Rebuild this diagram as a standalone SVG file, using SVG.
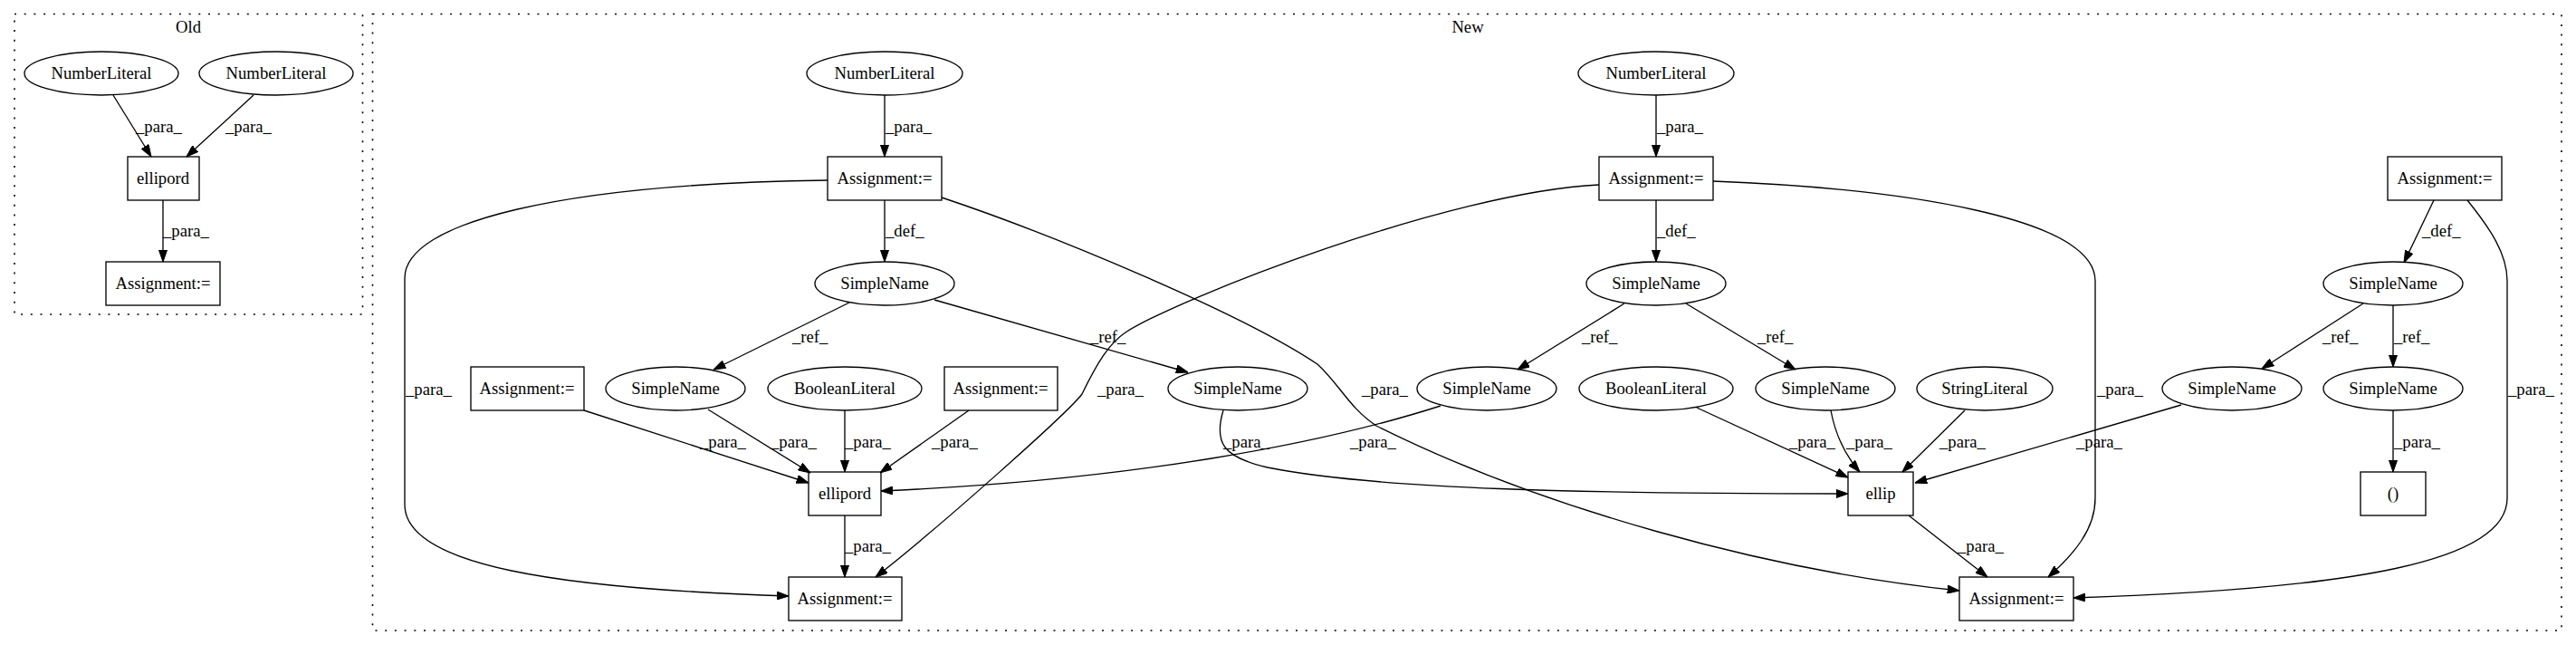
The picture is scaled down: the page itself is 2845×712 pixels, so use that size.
<svg xmlns="http://www.w3.org/2000/svg" width="2845" height="712" viewBox="0 0 2845 712">
<style>
text{font-family:"Liberation Serif","Times New Roman",serif;font-size:18.67px;fill:#000}
.n text{text-anchor:middle}
.n ellipse,.n rect{fill:none;stroke:#000;stroke-width:1.33}
.cl{fill:none;stroke:#000;stroke-width:1.6;stroke-dasharray:2,8.7}
.e path{fill:none;stroke:#000;stroke-width:1.33;marker-end:url(#ah)}
</style>
<defs>
<marker id="ah" viewBox="0 0 13.33 9.33" refX="13.33" refY="4.67" markerWidth="13.33" markerHeight="9.33" markerUnits="userSpaceOnUse" orient="auto">
<path d="M0,0 L13.33,4.67 L0,9.33 z" fill="#000" stroke="#000" stroke-width="1"/>
</marker>
</defs>
<rect width="2845" height="712" fill="#fff"/>
<g id="cluster_old">
<rect class="cl" x="16" y="15.5" width="384.5" height="331.5"/>
<text x="208" y="36" text-anchor="middle">Old</text>
</g>
<g id="cluster_new">
<rect class="cl" x="411.5" y="15.5" width="2417.5" height="680.5"/>
<text x="1621" y="36" text-anchor="middle">New</text>
</g>
<g class="n" id="o_nl1"><ellipse cx="112" cy="81" rx="85" ry="24"/><text x="112" y="87">NumberLiteral</text></g>
<g class="n" id="o_nl2"><ellipse cx="305" cy="81" rx="85" ry="24"/><text x="305" y="87">NumberLiteral</text></g>
<g class="n" id="o_ellipord"><rect x="141" y="173" width="79" height="48"/><text x="180" y="203">ellipord</text></g>
<g class="n" id="o_assign"><rect x="117" y="289" width="126" height="48"/><text x="180" y="319">Assignment:=</text></g>

<g class="n" id="n_nl1"><ellipse cx="977" cy="81" rx="86" ry="24"/><text x="977" y="87">NumberLiteral</text></g>
<g class="n" id="n_a1"><rect x="914" y="173" width="126" height="48"/><text x="977" y="203">Assignment:=</text></g>
<g class="n" id="n_sn1"><ellipse cx="977" cy="313" rx="77" ry="24"/><text x="977" y="319">SimpleName</text></g>
<g class="n" id="n_nl2"><ellipse cx="1829" cy="81" rx="86" ry="24"/><text x="1829" y="87">NumberLiteral</text></g>
<g class="n" id="n_a2"><rect x="1766" y="173" width="126" height="48"/><text x="1829" y="203">Assignment:=</text></g>
<g class="n" id="n_sn2"><ellipse cx="1829" cy="313" rx="77" ry="24"/><text x="1829" y="319">SimpleName</text></g>
<g class="n" id="n_a3"><rect x="2637" y="173" width="126" height="48"/><text x="2700" y="203">Assignment:=</text></g>
<g class="n" id="n_sn3"><ellipse cx="2643" cy="313" rx="77" ry="24"/><text x="2643" y="319">SimpleName</text></g>
<g class="n" id="n_a4"><rect x="520" y="405" width="125" height="48"/><text x="582" y="435">Assignment:=</text></g>
<g class="n" id="n_sn4"><ellipse cx="746" cy="429" rx="77" ry="24"/><text x="746" y="435">SimpleName</text></g>
<g class="n" id="n_bl1"><ellipse cx="933" cy="429" rx="85" ry="24"/><text x="933" y="435">BooleanLiteral</text></g>
<g class="n" id="n_a5"><rect x="1043" y="405" width="125" height="48"/><text x="1105" y="435">Assignment:=</text></g>
<g class="n" id="n_sn5"><ellipse cx="1367" cy="429" rx="77" ry="24"/><text x="1367" y="435">SimpleName</text></g>
<g class="n" id="n_sn6"><ellipse cx="1642" cy="429" rx="77" ry="24"/><text x="1642" y="435">SimpleName</text></g>
<g class="n" id="n_bl2"><ellipse cx="1829" cy="429" rx="85" ry="24"/><text x="1829" y="435">BooleanLiteral</text></g>
<g class="n" id="n_sn7"><ellipse cx="2016" cy="429" rx="77" ry="24"/><text x="2016" y="435">SimpleName</text></g>
<g class="n" id="n_strl"><ellipse cx="2192" cy="429" rx="75" ry="24"/><text x="2192" y="435">StringLiteral</text></g>
<g class="n" id="n_sn8"><ellipse cx="2465" cy="429" rx="77" ry="24"/><text x="2465" y="435">SimpleName</text></g>
<g class="n" id="n_sn9"><ellipse cx="2643" cy="429" rx="77" ry="24"/><text x="2643" y="435">SimpleName</text></g>
<g class="n" id="n_ellipord"><rect x="893" y="521" width="80" height="48"/><text x="933" y="551">ellipord</text></g>
<g class="n" id="n_ellip"><rect x="2041" y="521" width="72" height="48"/><text x="2077" y="551">ellip</text></g>
<g class="n" id="n_paren"><rect x="2607" y="521" width="72" height="48"/><text x="2643" y="551">()</text></g>
<g class="n" id="n_a6"><rect x="871" y="637" width="125" height="48"/><text x="933" y="667">Assignment:=</text></g>
<g class="n" id="n_a7"><rect x="2164" y="637" width="126" height="48"/><text x="2227" y="667">Assignment:=</text></g>

<g class="e" id="connectors">
<path d="M125,105 L167,173"/>
<path d="M280,105 L206,173"/>
<path d="M180,221 L180,289"/>
<path d="M977,105 L977,173"/>
<path d="M977,221 L977,289"/>
<path d="M914,199 C620,203 447,245 447,307 L447,557 C447,625 620,650 871,658"/>
<path d="M1040,218 C1160,258 1370,345 1455,402 C1480,425 1490,450 1520,470 C1700,560 1950,630 2164,652"/>
<path d="M1766,204 C1600,212 1300,330 1243,367 C1225,379 1212,400 1195,435 C1180,455 1040,580 967,637"/>
<path d="M1829,105 L1829,173"/>
<path d="M1829,221 L1829,289"/>
<path d="M1892,200 C2100,208 2314,240 2314,310 L2314,550 C2314,585 2290,612 2262,637"/>
<path d="M938,334 L788,408"/>
<path d="M1032,331 L1312,411"/>
<path d="M1794,335 L1676,408"/>
<path d="M1862,335 L1983,408"/>
<path d="M2688,221 L2655,290"/>
<path d="M2725,221 C2750,252 2769,280 2769,310 L2769,550 C2769,620 2600,650 2290,660"/>
<path d="M2610,335 L2498,407"/>
<path d="M2643,337 L2643,405"/>
<path d="M2643,453 L2643,521"/>
<path d="M2409,447 L2115,533"/>
<path d="M2170,453 L2101,521"/>
<path d="M2022,453 C2028,485 2040,505 2054,521"/>
<path d="M1874,450 L2041,527"/>
<path d="M1351,453 C1340,490 1352,505 1400,516 C1520,540 1750,545 2041,545"/>
<path d="M2108,569 L2195,637"/>
<path d="M782,452 L895,522"/>
<path d="M645,453 L893,533"/>
<path d="M933,453 L933,521"/>
<path d="M1070,453 L972,522"/>
<path d="M1591,448 C1460,490 1250,530 973,542"/>
<path d="M933,569 L933,637"/>
</g>
<g id="edge_labels">
<text x="150" y="146">_para_</text>
<text x="249" y="146">_para_</text>
<text x="180" y="261">_para_</text>
<text x="978" y="146">_para_</text>
<text x="978" y="261">_def_</text>
<text x="448" y="436">_para_</text>
<text x="1504" y="436">_para_</text>
<text x="1212" y="436">_para_</text>
<text x="1830" y="146">_para_</text>
<text x="1830" y="261">_def_</text>
<text x="2316" y="436">_para_</text>
<text x="875" y="378">_ref_</text>
<text x="1204" y="378">_ref_</text>
<text x="1747" y="378">_ref_</text>
<text x="1941" y="378">_ref_</text>
<text x="2675" y="261">_def_</text>
<text x="2770" y="436">_para_</text>
<text x="2565" y="378">_ref_</text>
<text x="2644" y="378">_ref_</text>
<text x="2644" y="494">_para_</text>
<text x="2293" y="494">_para_</text>
<text x="2142" y="494">_para_</text>
<text x="2039" y="494">_para_</text>
<text x="1976" y="494">_para_</text>
<text x="1351" y="494">_para_</text>
<text x="2162" y="609">_para_</text>
<text x="851" y="494">_para_</text>
<text x="773" y="494">_para_</text>
<text x="933" y="494">_para_</text>
<text x="1029" y="494">_para_</text>
<text x="1491" y="494">_para_</text>
<text x="933" y="609">_para_</text>
</g>
</svg>
